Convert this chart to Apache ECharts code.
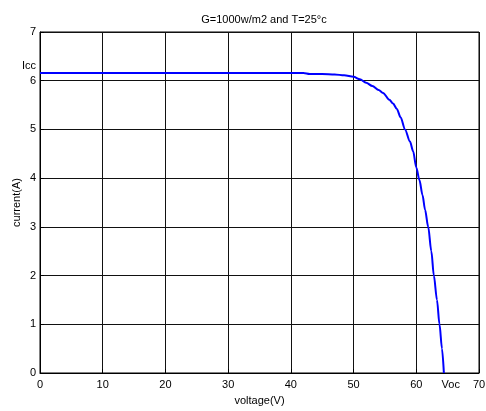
<!DOCTYPE html>
<html><head><meta charset="utf-8">
<script src="https://cdn.jsdelivr.net/npm/echarts@6/dist/echarts.min.js"></script>
<style>html,body{margin:0;padding:0;background:#fff}#c{width:486px;height:411px}</style>
</head><body><div id="c"></div>
<script>
const titleText = 'G=1000w/m2 and T=25°c';
const xName = 'voltage(V)';
const yName = 'current(A)';
const xTicks = [0, 10, 20, 30, 40, 50, 60, 70];
const yTicks = [0, 1, 2, 3, 4, 5, 6, 7];
const iccLabelPos = 6.3;
const vocLabelPos = 65.5;
const voltage = [0, 42, 43, 45, 47, 48.5, 50, 51, 52, 53, 54, 54.7, 55.7, 56.3, 56.9, 57.5, 58.2, 59, 59.5, 60, 60.5, 61, 61.4, 61.9, 62.4, 62.8, 63.3, 63.7, 64.1, 64.4];
const current = [6.16, 6.16, 6.14, 6.14, 6.13, 6.11, 6.08, 6.03, 5.96, 5.89, 5.81, 5.75, 5.61, 5.53, 5.42, 5.25, 5.0, 4.75, 4.55, 4.22, 3.96, 3.65, 3.35, 3.0, 2.5, 2.0, 1.5, 1.0, 0.5, 0];

const chart = echarts.init(document.getElementById('c'));
const font = 'Liberation Sans, Arial, sans-serif';
chart.setOption({
  animation: false,
  title: { text: titleText, left: 259, top: 9, textAlign: 'center',
    textStyle: { fontFamily: font, fontSize: 11, fontWeight: 'normal', color: '#000' } },
  grid: { left: 40, right: 7, top: 32, bottom: 38, containLabel: false, outerBoundsMode: 'none',
    show: true, borderColor: '#000', borderWidth: 1, backgroundColor: '#fff' },
  xAxis: {
    type: 'value', min: 0, max: 70, interval: 10,
    name: xName, nameLocation: 'middle', nameGap: 22, nameMoveOverlap: false,
    nameTextStyle: { fontFamily: font, fontSize: 11, color: '#000' },
    axisLine: { show: true, lineStyle: { color: '#000' } },
    axisTick: { show: true, inside: true, length: 4, lineStyle: { color: '#000' }, customValues: xTicks },
    axisLabel: { fontFamily: font, fontSize: 11, color: '#000', margin: 6,
      customValues: xTicks.slice(0, -1).concat([vocLabelPos, 70]),
      formatter: v => (v === vocLabelPos ? 'Voc' : String(v)) },
    splitLine: { show: true, lineStyle: { color: '#111', width: 1 } }
  },
  yAxis: {
    type: 'value', min: 0, max: 7, interval: 1,
    name: yName, nameLocation: 'middle', nameGap: 18, nameRotate: 90, nameMoveOverlap: false,
    nameTextStyle: { fontFamily: font, fontSize: 11, color: '#000' },
    axisLine: { show: true, lineStyle: { color: '#000' } },
    axisTick: { show: true, inside: true, length: 4, lineStyle: { color: '#000' }, customValues: yTicks },
    axisLabel: { fontFamily: font, fontSize: 11, color: '#000', margin: 4,
      customValues: yTicks.slice(0, -1).concat([iccLabelPos, 7]),
      formatter: v => (v === iccLabelPos ? 'Icc' : String(v)) },
    splitLine: { show: true, lineStyle: { color: '#111', width: 1 } }
  },
  series: [{
    type: 'line', data: voltage.map((v, i) => [v, current[i]]),
    showSymbol: false, smooth: 0.3, smoothMonotone: 'x',
    lineStyle: { color: '#0000ff', width: 2 }
  }]
});
</script></body></html>
